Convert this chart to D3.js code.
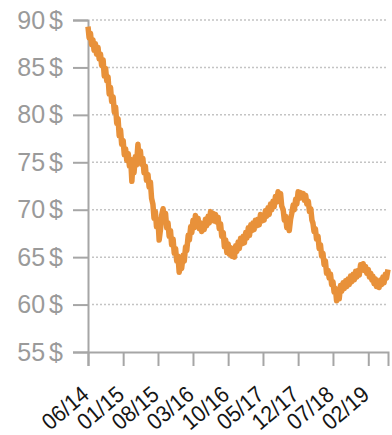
<!DOCTYPE html>
<meta charset="utf-8">
<style>
  body { margin: 0; background: #fff; }
  .ylab { font-family: "Liberation Sans", Arial, sans-serif; font-size: 25px; fill: #9a9a9a; }
  .xlab { font-family: "Liberation Sans", Arial, sans-serif; font-size: 23px; fill: #151515; }
</style>
<body>
<script src="https://d3js.org/d3.v7.min.js"></script>
<script>

    // weekly readings (4 per month), starting 1 June 2014
    var startMonth = new Date(2014, 5, 1);
    var weekDays = [1, 8, 16, 23];
    var prices = [
        89.3, 88.1, 88.6, 87.4,  87.9, 86.8, 87.5, 86.4,  87.1, 85.9, 86.4, 85.2,
        85.8, 84.1, 84.9, 83.6,  84.0, 82.2, 82.9, 81.4,  81.9, 80.3, 80.8, 79.1,
        79.6, 77.8, 78.4, 76.9,  77.3, 75.8, 76.4, 75.2,  75.9, 74.6, 75.3, 73.0,
        74.8, 73.9, 75.6, 74.7,  76.9, 75.3, 76.2, 74.8,  75.4, 73.9, 74.6, 73.1,
        73.7, 72.4, 72.9, 71.2,  70.6, 69.1, 69.8, 68.2,  68.9, 66.8, 67.9, 69.4,
        70.1, 69.0, 69.6, 68.1,  68.6, 67.2, 67.8, 66.3,  66.9, 65.4, 65.9, 64.6,
        65.1, 63.4, 64.3, 63.8,  65.2, 64.6, 66.1, 65.7,  67.3, 66.8, 68.2, 67.6,
        68.9, 68.1, 69.4, 68.6,  69.1, 68.0, 68.6, 67.7,  68.4, 67.9, 69.0, 68.3,
        69.3, 68.6, 69.8, 69.0,  69.6, 68.8, 69.5, 68.7,  69.2, 68.0, 68.5, 67.2,
        67.6, 66.1, 66.8, 65.5,  66.4, 65.3, 66.0, 65.1,  65.8, 65.0, 66.2, 65.6,
        66.6, 65.9, 67.0, 66.4,  67.2, 66.5, 67.6, 67.0,  68.1, 67.3, 68.4, 67.8,
        68.6, 67.9, 68.9, 68.3,  69.0, 68.4, 69.5, 68.8,  69.4, 68.9, 69.9, 69.3,
        70.2, 69.5, 70.6, 70.0,  70.9, 70.3, 71.4, 70.8,  71.9, 71.2, 71.7, 70.4,
        70.0, 68.9, 69.3, 68.1,  68.4, 67.8, 69.0, 69.6,  70.5, 70.0, 71.1, 70.6,
        71.9, 71.2, 71.8, 71.3,  71.7, 71.0, 71.5, 70.6,  70.9, 69.8, 70.1, 68.9,
        68.6, 67.7, 68.0, 66.9,  67.2, 65.9, 66.3, 65.1,  65.4, 64.2, 64.6, 63.3,
        63.6, 62.8, 63.2, 62.1,  62.4, 61.3, 61.7, 60.4,  61.5, 60.6, 62.0, 61.4,
        62.3, 61.7, 62.5, 61.9,  62.7, 62.1, 63.0, 62.4,  63.2, 62.6, 63.5, 62.9,
        63.6, 63.1, 64.2, 63.7,  64.3, 63.6, 64.0, 63.3,  63.7, 62.9, 63.3, 62.6,
        63.0, 62.2, 62.7, 61.9,  62.4, 61.8, 62.6, 62.1,  62.9, 62.3, 63.2, 62.8,
        63.7
    ];

    var yTicks = [55, 60, 65, 70, 75, 80, 85, 90];
    var xTickLabels = ["06/14", "01/15", "08/15", "03/16", "10/16", "05/17", "12/17", "07/18", "02/19"];

    var parseTick = d3.timeParse("%m/%y");
    var xTickDates = xTickLabels.map(parseTick);

    var data = prices.map(function (p, i) {
        var d = d3.timeMonth.offset(startMonth, Math.floor(i / 4));
        d.setDate(weekDays[i % 4]);
        return {date: d, value: p};
    });

    var width = 392, height = 435;
    var margin = {top: 20, right: 4, bottom: 83, left: 88};

    var svg = d3.select("body").append("svg")
        .attr("width", width)
        .attr("height", height);

    var x = d3.scaleTime()
        .domain([startMonth, new Date(2019, 5, 1)])
        .range([margin.left, width - margin.right]);

    var y = d3.scaleLinear()
        .domain([55, 90])
        .range([height - margin.bottom, margin.top]);

    // dotted gridlines
    svg.append("g")
        .selectAll("line")
        .data(yTicks.slice(1))
        .enter().append("line")
        .attr("x1", margin.left + 4)
        .attr("x2", width - margin.right)
        .attr("y1", function (d) { return y(d); })
        .attr("y2", function (d) { return y(d); })
        .attr("stroke", "#c4c4c4")
        .attr("stroke-width", 1.5)
        .attr("stroke-dasharray", "2,2");

    // y axis
    var yAxis = svg.append("g")
        .attr("transform", "translate(" + margin.left + ",0)")
        .call(d3.axisLeft(y).tickValues(yTicks).tickSize(15).tickPadding(10)
            .tickFormat(function (d) { return d + " $"; }));
    yAxis.select(".domain").attr("stroke", "#a6a6a6").attr("stroke-width", 2);
    yAxis.selectAll(".tick line").attr("stroke", "#a6a6a6").attr("stroke-width", 2);
    yAxis.selectAll(".tick text").attr("class", "ylab").attr("fill", null)
        .attr("font-size", null).attr("font-family", null)
        .style("word-spacing", "-3px");

    // x axis
    var xAxis = svg.append("g")
        .attr("transform", "translate(0," + y(55) + ")")
        .call(d3.axisBottom(x).tickValues(xTickDates).tickSize(14)
            .tickFormat(d3.timeFormat("%m/%y")));
    xAxis.select(".domain").attr("stroke", "#a6a6a6").attr("stroke-width", 2);
    xAxis.selectAll(".tick line").attr("stroke", "#a6a6a6").attr("stroke-width", 2);
    xAxis.selectAll(".tick text")
        .attr("class", "xlab").attr("fill", null)
        .attr("font-size", null).attr("font-family", null)
        .attr("text-anchor", "end")
        .attr("y", 0).attr("dy", 0)
        .attr("transform", "translate(2,45) rotate(-40) scale(0.92,1)");

    // price line
    var line = d3.line()
        .x(function (d) { return x(d.date); })
        .y(function (d) { return y(d.value); });

    svg.append("path")
        .datum(data)
        .attr("d", line)
        .attr("fill", "none")
        .attr("stroke", "#e8913a")
        .attr("stroke-width", 5.5)
        .attr("stroke-linejoin", "round");

</script>
</body>
